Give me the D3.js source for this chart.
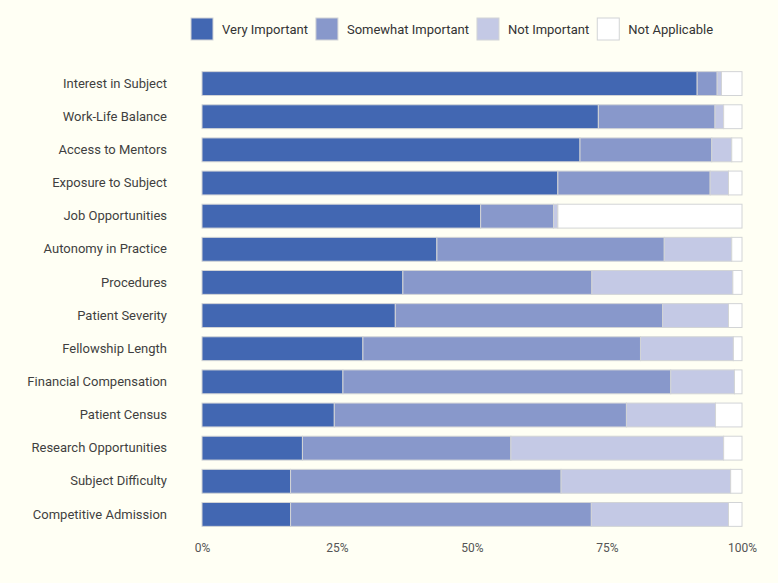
<!DOCTYPE html>
<html>
<head>
<meta charset="utf-8">
<script src="https://cdn.jsdelivr.net/npm/d3@7"></script>
<style>
  html, body { margin: 0; padding: 0; background: #fffff4; }
  svg { display: block; font-family: Roboto, "Noto Sans", sans-serif; }
</style>
</head>
<body>
<svg id="chart" width="778" height="583"></svg>
<script>
// --- DATA ---
const categories = [
    "Interest in Subject", "Work-Life Balance", "Access to Mentors", "Exposure to Subject",
    "Job Opportunities", "Autonomy in Practice", "Procedures", "Patient Severity",
    "Fellowship Length", "Financial Compensation", "Patient Census", "Research Opportunities",
    "Subject Difficulty", "Competitive Admission"
];
const seriesNames = ["Very Important", "Somewhat Important", "Not Important", "Not Applicable"];

// shares in percent
const veryImportant     = [91.7, 73.4, 70.0, 65.9, 51.6, 43.5, 37.2, 35.8, 29.8, 26.1, 24.5, 18.6, 16.4, 16.4];
const somewhatImportant = [ 3.7, 21.6, 24.4, 28.2, 13.5, 42.1, 35.0, 49.5, 51.4, 60.7, 54.1, 38.6, 50.1, 55.7];
const notImportant      = [ 0.8,  1.6,  3.7,  3.4,  0.8, 12.5, 26.1, 12.2, 17.2, 11.8, 16.5, 39.4, 31.4, 25.4];
const notApplicable     = [ 3.8,  3.4,  1.9,  2.5, 34.1,  1.9,  1.7,  2.5,  1.6,  1.4,  4.9,  3.4,  2.1,  2.5];
const tickValues = [0, 0.25, 0.5, 0.75, 1];

const COLORS = {
    "Very Important": "#4267b2",
    "Somewhat Important": "#8898cb",
    "Not Important": "#c4c9e5",
    "Not Applicable": "#ffffff"
};

// build rows for d3.stack
const rows = categories.map((c, i) => ({
    name: c,
    "Very Important": veryImportant[i],
    "Somewhat Important": somewhatImportant[i],
    "Not Important": notImportant[i],
    "Not Applicable": notApplicable[i]
}));

const width = 778, height = 583;
const marginTop = 67, marginRight = 36, marginBottom = 52, marginLeft = 202;

const x = d3.scaleLinear().domain([0, 100]).range([marginLeft, width - marginRight]);
const y = d3.scaleBand().domain(categories)
    .range([marginTop, 531]).paddingInner(0.28).paddingOuter(0.14);

const stack = d3.stack().keys(seriesNames);
const stacked = stack(rows);

const svg = d3.select("#chart");

// bars
svg.append("g")
    .selectAll("g")
    .data(stacked)
    .join("g")
        .attr("fill", s => COLORS[s.key])
    .selectAll("rect")
    .data(s => s)
    .join("rect")
        .attr("x", d => x(d[0]))
        .attr("y", d => y(d.data.name))
        .attr("width", d => x(d[1]) - x(d[0]))
        .attr("height", y.bandwidth())
        .attr("stroke", "#d2d4d6")
        .attr("stroke-width", 1);

// category axis
svg.append("g")
    .attr("transform", `translate(${marginLeft - 32},0)`)
    .call(d3.axisLeft(y).tickSize(0))
    .call(g => g.select(".domain").remove())
    .call(g => g.selectAll("text")
        .attr("fill", "#3f3f3f")
        .attr("font-size", 13)
        .attr("font-family", "Roboto, sans-serif"));

// percent axis
const xScale01 = d3.scaleLinear().domain([0, 1]).range(x.range());
svg.append("g")
    .attr("transform", `translate(0,${height - marginBottom + 9})`)
    .call(d3.axisBottom(xScale01).tickValues(tickValues).tickFormat(d3.format(".0%")).tickSize(0))
    .call(g => g.select(".domain").remove())
    .call(g => g.selectAll("text")
        .attr("fill", "#555")
        .attr("font-size", 12)
        .attr("font-family", "Roboto, sans-serif"));

// legend
const legend = svg.append("g").attr("transform", "translate(191,18)");
let lx = 0;
seriesNames.forEach(name => {
    const item = legend.append("g").attr("transform", `translate(${lx},0)`);
    item.append("rect")
        .attr("width", 22).attr("height", 22)
        .attr("fill", COLORS[name])
        .attr("stroke", "#d2d4d6");
    const t = item.append("text")
        .attr("x", 31).attr("y", 11)
        .attr("dy", "0.35em")
        .attr("font-size", 13)
        .attr("fill", "#333")
        .text(name);
    lx += 31 + t.node().getComputedTextLength() + 8;
});
</script>
</body>
</html>
